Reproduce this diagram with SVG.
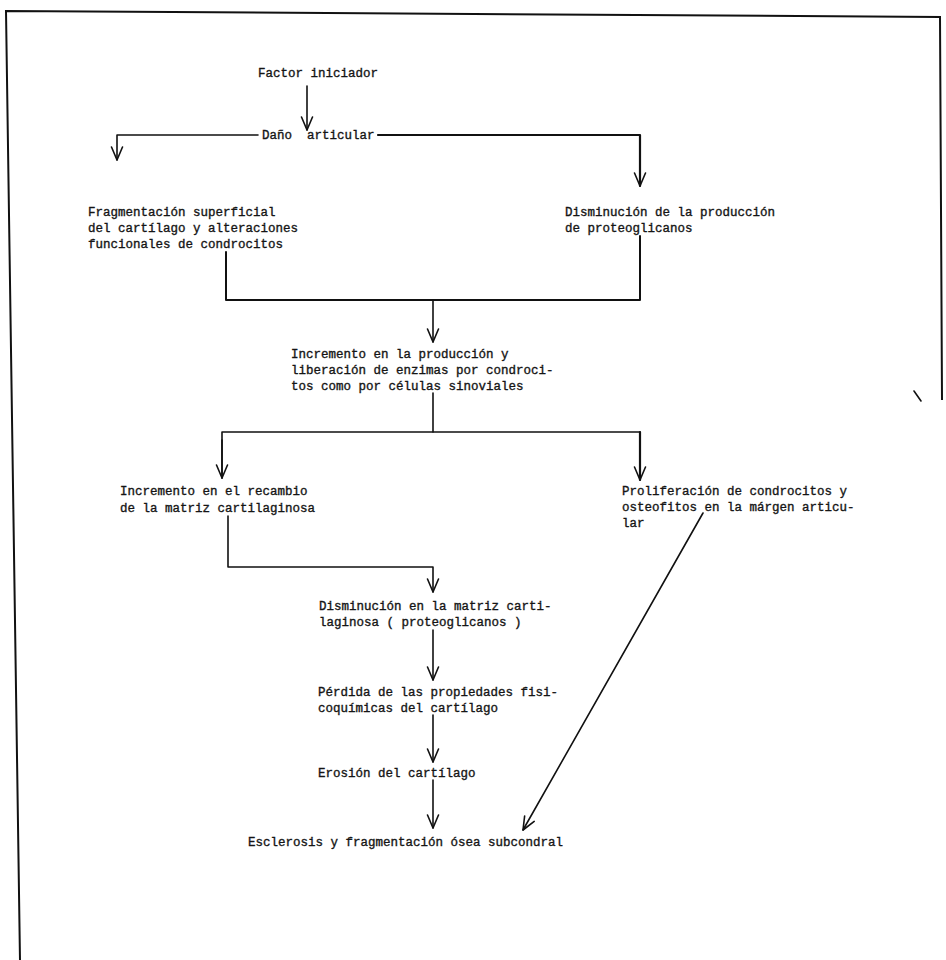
<svg xmlns="http://www.w3.org/2000/svg" width="946" height="960" viewBox="0 0 946 960">
<defs>
<style>
.t{font-family:"Liberation Mono","DejaVu Sans Mono",monospace;font-size:12.5px;fill:#151515;stroke:#151515;stroke-width:0.35;}
.ln{fill:none;stroke:#111;stroke-width:1.6;stroke-linecap:round;stroke-linejoin:round;}
.bd{fill:none;stroke:#111;stroke-width:2;}
</style>
<marker id="ah" viewBox="-14 -7 16 14" refX="0" refY="0" markerWidth="16" markerHeight="14" markerUnits="userSpaceOnUse" orient="auto">
<path d="M-13,-5.5 L0,0 L-13,5.5" fill="none" stroke="#111" stroke-width="1.6" stroke-linecap="round" stroke-linejoin="round"/>
</marker>
</defs>
<rect width="946" height="960" fill="#fff"/>
<g id="border">
<path class="bd" d="M20,960 L6,11 L940,17 L942,400"/>
<path class="ln" d="M914,391 L921,401"/>
</g>
<g id="connectors">
<path class="ln" d="M307,86 L307,130" marker-end="url(#ah)"/>
<path class="ln" d="M258,135 L117,135 L117,160" marker-end="url(#ah)"/>
<path class="ln" d="M378,135 L640,135 L640,186" marker-end="url(#ah)" style="stroke-width:2.2"/>
<path class="ln" d="M226,252 L226,300 L640,300 L640,236" style="stroke-width:2"/>
<path class="ln" d="M433,300 L433,342" marker-end="url(#ah)"/>
<path class="ln" d="M433,393 L433,432"/>
<path class="ln" d="M222,478 L222,432 L640,432"/>
<path class="ln" d="M222,440 L222,478" marker-end="url(#ah)"/>
<path class="ln" d="M640,432 L640,480" marker-end="url(#ah)" style="stroke-width:2.2"/>
<path class="ln" d="M228,516 L228,567 L433,567 L433,592" marker-end="url(#ah)"/>
<path class="ln" d="M433,630 L433,680" marker-end="url(#ah)"/>
<path class="ln" d="M433,715 L433,762" marker-end="url(#ah)"/>
<path class="ln" d="M433,780 L433,828" marker-end="url(#ah)"/>
<path class="ln" d="M703,513 L523,830" marker-end="url(#ah)"/>
</g>
<g id="n1"><text class="t" x="258" y="77">Factor iniciador</text></g>
<g id="n2"><text class="t" x="262" y="139" xml:space="preserve">Daño  articular</text></g>
<g id="n3">
<text class="t" x="88" y="216">Fragmentación superficial</text>
<text class="t" x="88" y="232">del cartílago y alteraciones</text>
<text class="t" x="88" y="248">funcionales de condrocitos</text>
</g>
<g id="n4">
<text class="t" x="565" y="216">Disminución de la producción</text>
<text class="t" x="565" y="232">de proteoglicanos</text>
</g>
<g id="n5">
<text class="t" x="291" y="358">Incremento en la producción y</text>
<text class="t" x="291" y="374">liberación de enzimas por condroci-</text>
<text class="t" x="291" y="390">tos como por células sinoviales</text>
</g>
<g id="n6">
<text class="t" x="120" y="495">Incremento en el recambio</text>
<text class="t" x="120" y="512">de la matriz cartilaginosa</text>
</g>
<g id="n7">
<text class="t" x="622" y="495">Proliferación de condrocitos y</text>
<text class="t" x="622" y="511">osteofitos en la márgen articu-</text>
<text class="t" x="622" y="527">lar</text>
</g>
<g id="n8">
<text class="t" x="319" y="610">Disminución en la matriz carti-</text>
<text class="t" x="319" y="626">laginosa ( proteoglicanos )</text>
</g>
<g id="n9">
<text class="t" x="318" y="696">Pérdida de las propiedades fisi-</text>
<text class="t" x="318" y="712">coquímicas del cartílago</text>
</g>
<g id="n10"><text class="t" x="318" y="777">Erosión del cartílago</text></g>
<g id="n11"><text class="t" x="248" y="846">Esclerosis y fragmentación ósea subcondral</text></g>
</svg>
